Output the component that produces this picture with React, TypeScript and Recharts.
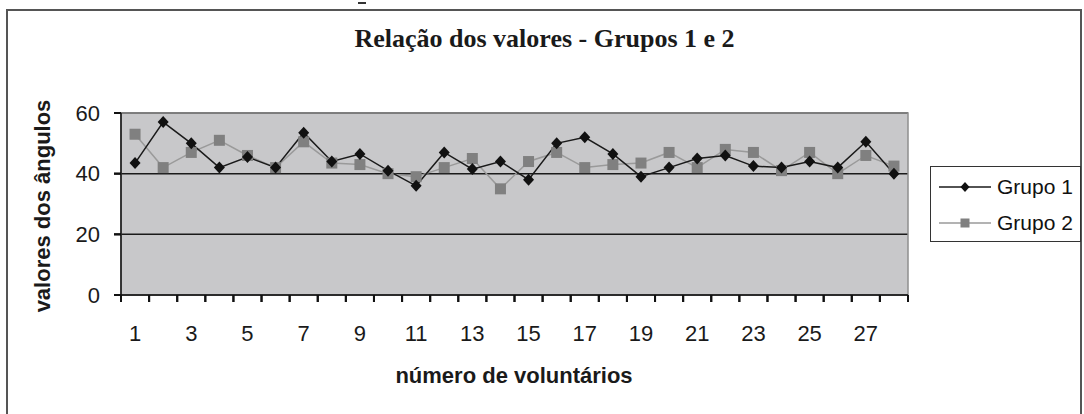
import React from 'react';
import { LineChart, Line, XAxis, YAxis, CartesianGrid, ReferenceArea } from 'recharts';

// número de voluntários
const voluntarios = [1, 2, 3, 4, 5, 6, 7, 8, 9, 10, 11, 12, 13, 14, 15, 16, 17, 18, 19, 20, 21, 22, 23, 24, 25, 26, 27, 28];
const grupo1 = [43.5, 57, 50, 42, 45.5, 42, 53.5, 44, 46.5, 41, 36, 47, 41.5, 44, 38, 50, 52, 46.5, 39, 42, 45, 46, 42.5, 42, 44, 42, 50.5, 40];
const grupo2 = [53, 42, 47, 51, 46, 42, 50.5, 43.5, 43, 40, 39, 42, 45, 35, 44, 47, 42, 43, 43.5, 47, 42, 48, 47, 41, 47, 40, 46, 42.5];

const xTickLabels = [1, 3, 5, 7, 9, 11, 13, 15, 17, 19, 21, 23, 25, 27];
const xTickMarks = [0.5, 1.5, 2.5, 3.5, 4.5, 5.5, 6.5, 7.5, 8.5, 9.5, 10.5, 11.5, 12.5, 13.5, 14.5, 15.5, 16.5, 17.5, 18.5, 19.5, 20.5, 21.5, 22.5, 23.5, 24.5, 25.5, 26.5, 27.5, 28.5];
const yTicks = [0, 20, 40, 60];

const series = [
    { key: 'g1', name: 'Grupo 1', line: '#1a1a1a', fill: '#111', mark: 'diamond' },
    { key: 'g2', name: 'Grupo 2', line: '#9a9a9a', fill: '#808080', mark: 'square' },
];

const data = voluntarios.map((n, i) => ({ n, g1: grupo1[i], g2: grupo2[i] }));

const SANS = '"Liberation Sans", Arial, sans-serif';
const TICK = 7;
const X_GAP = 23;
const Y_GAP = 14;

const Diamond = ({ cx, cy, fill, size = 6 }: any) => (
    <path d={`M${cx},${cy - size} L${cx + size - 0.5},${cy} L${cx},${cy + size} L${cx - size + 0.5},${cy} Z`} fill={fill} stroke="none" />
);

const Square = ({ cx, cy, fill, size = 5.5 }: any) => (
    <rect x={cx - size} y={cy - size} width={size * 2} height={size * 2} fill={fill} stroke="none" />
);

// traço nas fronteiras, rótulo no centro da categoria à direita
const BoundaryTick = (props: any) => {
    const { x, y, payload, width, visibleTicksCount } = props;
    const n = payload.value + 0.5;
    const half = width / (visibleTicksCount - 1) / 2;
    return (
        <g>
            <line x1={x} x2={x} y1={y - X_GAP - TICK} y2={y - X_GAP} stroke="#111" strokeWidth={2} />
            {xTickLabels.includes(n) && (
                <text x={x + half} y={y} dy="0.71em" textAnchor="middle" fontSize={22} fill="#1a1a1a" fontFamily={SANS}>
                    {n}
                </text>
            )}
        </g>
    );
};

const ValueTick = (props: any) => {
    const { x, y, payload } = props;
    return (
        <g>
            <line x1={x + Y_GAP} x2={x + Y_GAP + TICK} y1={y} y2={y} stroke="#111" strokeWidth={2} />
            <text x={x} y={y} dy="0.355em" textAnchor="end" fontSize={22} fill="#1a1a1a" fontFamily={SANS}>
                {payload.value}
            </text>
        </g>
    );
};

const LegendBox = () => (
    <div style={{ position: 'absolute', left: 930, top: 166, width: 151, height: 76, border: '1.5px solid #333', boxSizing: 'border-box', background: '#fff', fontFamily: SANS, fontSize: 21, color: '#111' }}>
        {series.map((e, i) => (
            <div key={e.key} style={{ position: 'absolute', left: 0, top: i === 0 ? 8 : 44, height: 24, display: 'flex', alignItems: 'center' }}>
                <svg width={64} height={24} style={{ display: 'block' }}>
                    <line x1={8} y1={12} x2={60} y2={12} stroke={e.line} strokeWidth={1.5} />
                    {e.mark === 'diamond' ? <Diamond cx={34} cy={12} fill={e.fill} size={5} /> : <Square cx={34} cy={12} fill={e.fill} size={4.5} />}
                </svg>
                <span style={{ marginLeft: 2, whiteSpace: 'nowrap' }}>{e.name}</span>
            </div>
        ))}
    </div>
);

const App = () => {
    return (
        <div style={{ position: 'absolute', left: 0, top: 0, width: 1084, height: 414, background: '#fff', overflow: 'hidden' }}>
            {/* moldura */}
            <div style={{ position: 'absolute', left: 6, top: 9, width: 1076, height: 420, borderLeft: '2px solid #555', borderTop: '2px solid #555', borderRight: '2px solid #555', boxSizing: 'border-box' }} />
            <div style={{ position: 'absolute', left: 358, top: 2, width: 8, height: 2, background: '#333' }} />

            <div style={{ position: 'absolute', left: 0, width: 1084, top: 24, textAlign: 'center', paddingLeft: 5, boxSizing: 'border-box', fontFamily: '"Liberation Serif", "Times New Roman", serif', fontWeight: 'bold', fontSize: 26, color: '#1a1a1a', lineHeight: '30px' }}>
                Relação dos valores - Grupos 1 e 2
            </div>

            <div style={{ position: 'absolute', left: 43, top: 206, transform: 'translate(-50%, -50%) rotate(-90deg)', whiteSpace: 'nowrap', fontFamily: SANS, fontWeight: 'bold', fontSize: 22, color: '#1a1a1a', lineHeight: '24px' }}>
                valores dos ângulos
            </div>

            <div style={{ position: 'absolute', left: 514, top: 376, transform: 'translate(-50%, -50%)', whiteSpace: 'nowrap', fontFamily: SANS, fontWeight: 'bold', fontSize: 22, color: '#1a1a1a', lineHeight: '24px' }}>
                número de voluntários
            </div>

            <div style={{ position: 'absolute', left: 0, top: 0 }}>
                <LineChart width={1084} height={414} data={data} margin={{ top: 113, right: 176, bottom: 79, left: 0 }}>
                    <CartesianGrid vertical={false} stroke="#1a1a1a" strokeWidth={1.5} fill="#c8c8ca" fillOpacity={1} />
                    <ReferenceArea y1={0} y2={60} fill="none" stroke="#8f8f8f" strokeWidth={1.5} />
                    <XAxis
                        dataKey="n"
                        type="number"
                        domain={[0.5, 28.5]}
                        ticks={xTickMarks}
                        interval={0}
                        tickSize={TICK}
                        tickMargin={X_GAP}
                        tickLine={{ stroke: '#111', strokeWidth: 2 }}
                        height={40}
                        stroke="#111"
                        strokeWidth={1.5}
                        tick={<BoundaryTick />}
                        allowDataOverflow
                    />
                    <YAxis
                        width={121}
                        domain={[0, 60]}
                        ticks={yTicks}
                        interval={0}
                        tickSize={TICK}
                        tickMargin={Y_GAP}
                        tickLine={{ stroke: '#111', strokeWidth: 2 }}
                        stroke="#111"
                        strokeWidth={1.5}
                        tick={<ValueTick />}
                    />
                    <Line dataKey="g2" name="Grupo 2" stroke="#9a9a9a" strokeWidth={1.5} isAnimationActive={false}
                        dot={(p: any) => <Square key={`s${p.index}`} cx={p.cx} cy={p.cy} fill="#808080" />} activeDot={false} />
                    <Line dataKey="g1" name="Grupo 1" stroke="#1a1a1a" strokeWidth={1.5} isAnimationActive={false}
                        dot={(p: any) => <Diamond key={`d${p.index}`} cx={p.cx} cy={p.cy} fill="#111" />} activeDot={false} />
                </LineChart>
            </div>

            <LegendBox />
        </div>
    );
};

export default App;
